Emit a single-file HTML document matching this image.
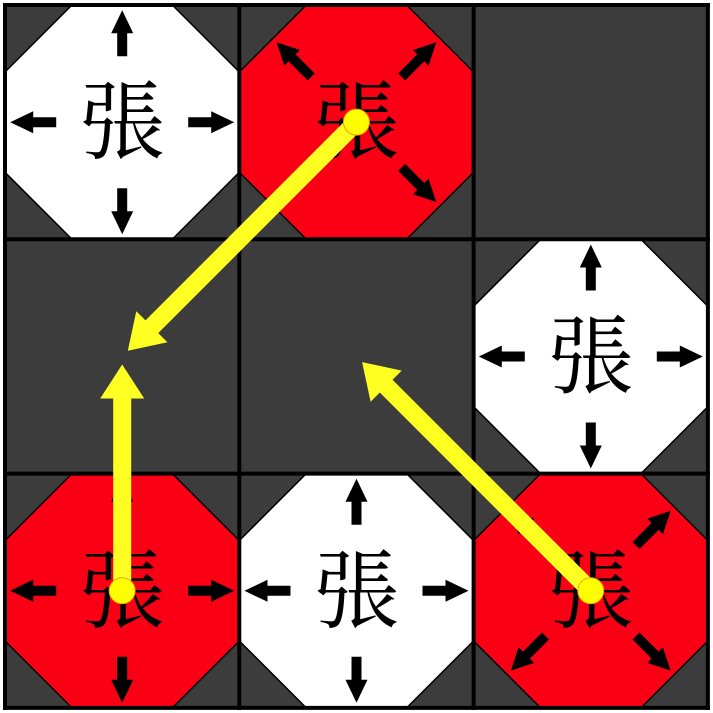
<!DOCTYPE html>
<html><head><meta charset="utf-8"><style>html,body{margin:0;padding:0;background:#fff}svg{display:block}</style></head>
<body>
<svg id="board" width="713" height="713" viewBox="0 0 713 713" xmlns="http://www.w3.org/2000/svg">
<rect x="5" y="5" width="703" height="703" fill="#3c3c3c"/>
<g id="pieces"></g>
<g id="gridlines"></g>
<g id="moves"></g>
</svg>
<script>
const NS='http://www.w3.org/2000/svg';
const pieceRows=[0,0,1,2,2,2];
const pieceCols=[0,1,2,0,1,2];
const pieceColors=['white','red','white','red','white','red'];
const pieceArrowSets=[['N','S','W','E'],['NW','NE','SE'],['N','S','W','E'],['N','S','W','E'],['N','S','W','E'],['NW','NE','SW','SE']];
const moveFromRows=[0,2,2];
const moveFromCols=[1,0,2];
const moveToRows=[1,1,1];
const moveToCols=[0,0,1];
const x0=5, cs=234.3;
function cx(c){return x0+cs*(c+0.5);}
function mk(t,a,p){const e=document.createElementNS(NS,t);for(const k in a)e.setAttribute(k,a[k]);p.appendChild(e);return e;}
const gp=document.getElementById('pieces');
const dirs={N:[0,-1],S:[0,1],W:[-1,0],E:[1,0],NW:[-.707,-.707],NE:[.707,-.707],SW:[-.707,.707],SE:[.707,.707]};
function arrowPoly(x,y,dx,dy,r1,r2,hl,sw,hw){
  const px=-dy,py=dx;
  const b=r2-hl;
  const pts=[[r1,-sw],[b,-sw],[b,-hw],[r2,0],[b,hw],[b,sw],[r1,sw]];
  return pts.map(([a,s])=>(x+dx*a+px*s).toFixed(1)+','+(y+dy*a+py*s).toFixed(1)).join(' ');
}
for(let i=0;i<pieceRows.length;i++){
  const x=cx(pieceCols[i]),y=cx(pieceRows[i]);
  const g=mk('g',{},gp);
  
  
  const h=cs/2, k=h-67;
  const pts=[[-k,-h],[k,-h],[h,-k],[h,k],[k,h],[-k,h],[-h,k],[-h,-k]].map(p=>(x+p[0])+','+(y+p[1])).join(' ');
  const oct=mk('polygon',{points:pts,fill:pieceColors[i]==='red'?'#fb0015':'#ffffff',stroke:'#000','stroke-width':1.5},g);
  
  
  const t=mk('text',{x:x,y:y+30,'text-anchor':'middle','font-size':86,'font-family':'"Liberation Serif","Noto Serif CJK SC",serif',fill:'#000'},g);
  t.textContent='張';
  
  
  for(const d of pieceArrowSets[i]){
    const [dx,dy]=dirs[d];
    const diag=d.length===2;
    const a=mk('polygon',{points:arrowPoly(x,y,dx,dy,diag?64:66,diag?113:112,diag?22:23,5,11),fill:'#000'},g);
    
    
  }
}
const gl=document.getElementById('gridlines');
for(let i=0;i<=3;i++){
  const p=x0+cs*i;
  const v=mk('line',{x1:p,y1:3,x2:p,y2:710,stroke:'#000','stroke-width':4},gl);
  
  
  const hl=mk('line',{x1:3,y1:p,x2:710,y2:p,stroke:'#000','stroke-width':4},gl);
  
  
}
const gm=document.getElementById('moves');
for(let i=0;i<moveFromRows.length;i++){
  const fx=cx(moveFromCols[i]),fy=cx(moveFromRows[i]);
  const ex=cx(moveToCols[i]),ey=cx(moveToRows[i]);
  const L0=Math.hypot(ex-fx,ey-fy),dx=(ex-fx)/L0,dy=(ey-fy)/L0;
  const L=L0-8;
  const g=mk('g',{},gm);
  
  
  const a=mk('polygon',{points:arrowPoly(fx,fy,dx,dy,0,L,34,9,22),fill:'#ffff22'},g);
  
  
  const c=mk('circle',{cx:fx,cy:fy,r:13,fill:'#ffff00',stroke:'#f0a000','stroke-width':1},g);
  
  
}
</script>
</body></html>
